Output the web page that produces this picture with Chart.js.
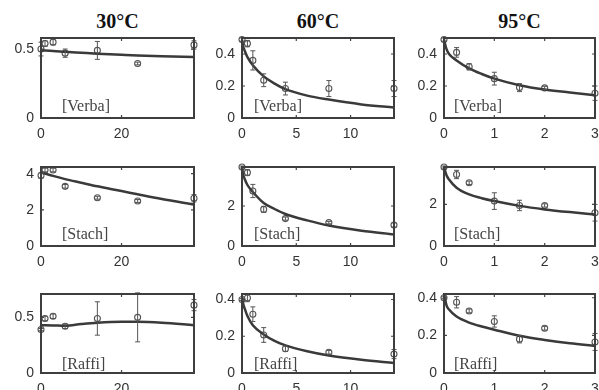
<!DOCTYPE html>
<html>
<head>
<meta charset="utf-8">
<script src="https://cdn.jsdelivr.net/npm/chart.js@4.4.1/dist/chart.umd.min.js"></script>
<style>
    body { margin: 0; background: #fff; width: 599px; height: 390px; overflow: hidden; position: relative; }
    canvas { position: absolute; }
    .ttl { position: absolute; top: 10px; transform: translateX(-50%); white-space: nowrap;
           font: bold 20px "Liberation Serif", "Times New Roman", serif; color: #111; }
</style>
</head>
<body>
<script>
// column titles and row labels
const temps = ['30°C', '60°C', '95°C'];
const sugars = ['[Verba]', '[Stach]', '[Raffi]'];

// sampling times (x) of the measured points, one per temperature
const t30 = [0, 1, 3, 6, 14, 24, 38];
const t60 = [0, 0.5, 1, 2, 4, 8, 14];
const t95 = [0, 0.25, 0.5, 1, 1.5, 2, 3];

// measured values and error bars
const verba30 = [0.50, 0.54, 0.55, 0.47, 0.49, 0.395, 0.53];
const verba30Err = [0.05, 0.02, 0.02, 0.03, 0.065, 0.01, 0.03];
const verba60 = [0.49, 0.465, 0.36, 0.236, 0.184, 0.184, 0.184];
const verba60Err = [0.01, 0.02, 0.06, 0.04, 0.04, 0.05, 0.05];
const verba95 = [0.49, 0.41, 0.32, 0.246, 0.19, 0.188, 0.155];
const verba95Err = [0.01, 0.03, 0.02, 0.04, 0.025, 0.01, 0.045];

const stach30 = [3.9, 4.2, 4.2, 3.3, 2.67, 2.49, 2.64];
const stach30Err = [0.15, 0.1, 0.1, 0.1, 0.08, 0.08, 0.2];
const stach60 = [3.95, 3.67, 2.75, 1.83, 1.37, 1.17, 1.05];
const stach60Err = [0.05, 0.15, 0.33, 0.15, 0.08, 0.06, 0.1];
const stach95 = [3.8, 3.44, 3.04, 2.16, 1.95, 1.95, 1.6];
const stach95Err = [0.05, 0.2, 0.08, 0.4, 0.25, 0.08, 0.4];

const raffi30 = [0.39, 0.49, 0.51, 0.42, 0.49, 0.50, 0.61];
const raffi30Err = [0.01, 0.02, 0.02, 0.02, 0.15, 0.22, 0.05];
const raffi60 = [0.40, 0.408, 0.32, 0.207, 0.132, 0.113, 0.103];
const raffi60Err = [0.005, 0.02, 0.04, 0.04, 0.015, 0.01, 0.025];
const raffi95 = [0.40, 0.376, 0.33, 0.274, 0.18, 0.238, 0.165];
const raffi95Err = [0.005, 0.03, 0.01, 0.03, 0.02, 0.01, 0.045];

// fitted curves
const fitT30 = [0, 3, 6, 10, 14, 20, 24, 30, 38];
const fitT60 = [0, 0.1, 0.25, 0.5, 1, 2, 3, 4, 6, 8, 11, 14];
const fitT95 = [0, 0.05, 0.1, 0.25, 0.5, 0.75, 1, 1.5, 2, 2.5, 3];

const verba30Fit = [0.49, 0.486, 0.48, 0.473, 0.466, 0.458, 0.453, 0.448, 0.443];
const verba60Fit = [0.49, 0.45, 0.42, 0.38, 0.33, 0.26, 0.215, 0.18, 0.14, 0.115, 0.085, 0.065];
const verba95Fit = [0.49, 0.43, 0.40, 0.36, 0.31, 0.275, 0.246, 0.205, 0.178, 0.16, 0.142];

const stach30Fit = [4.08, 3.88, 3.7, 3.5, 3.3, 3.04, 2.86, 2.6, 2.3];
const stach60Fit = [3.95, 3.6, 3.35, 3.05, 2.7, 2.15, 1.85, 1.6, 1.28, 1.02, 0.76, 0.58];
const stach95Fit = [3.8, 3.4, 3.2, 2.8, 2.48, 2.3, 2.16, 1.93, 1.76, 1.63, 1.52];

const raffi30Fit = [0.43, 0.428, 0.425, 0.44, 0.452, 0.46, 0.46, 0.452, 0.43];
const raffi60Fit = [0.42, 0.38, 0.35, 0.31, 0.26, 0.21, 0.175, 0.15, 0.118, 0.095, 0.072, 0.055];
const raffi95Fit = [0.42, 0.36, 0.337, 0.30, 0.268, 0.247, 0.23, 0.198, 0.176, 0.158, 0.144];

// axis ranges and tick steps
const xMax = [38, 14, 3];
const xStep = [20, 5, 1];
const yMax = [[0.58, 0.5, 0.5], [4.37, 3.95, 3.8], [0.71, 0.43, 0.42]];
const yStep = [[0.5, 0.2, 0.2], [2, 2, 2], [0.5, 0.2, 0.2]];

// panel table built from the arrays above
const times = [t30, t60, t95];
const fitTimes = [fitT30, fitT60, fitT95];
const values = [[verba30, verba60, verba95], [stach30, stach60, stach95], [raffi30, raffi60, raffi95]];
const errors = [[verba30Err, verba60Err, verba95Err], [stach30Err, stach60Err, stach95Err], [raffi30Err, raffi60Err, raffi95Err]];
const fits = [[verba30Fit, verba60Fit, verba95Fit], [stach30Fit, stach60Fit, stach95Fit], [raffi30Fit, raffi60Fit, raffi95Fit]];

// plot boxes on the page (pixels)
const colL = [41, 242, 444], colR = [194, 394, 595];
const rowT = [38, 167, 294], rowB = [118, 246, 373];
const tagDx = [21, 12, 10], tagDy = [7, 7, 4];
const padTop = 10, padRight = 10, yW = 40, xH = 25;

const tickFont = { family: '"Liberation Sans", Arial, sans-serif', size: 14 };

// error bars
const errorBars = {
    id: 'errorBars',
    afterDatasetsDraw(chart) {
        const ctx = chart.ctx, ys = chart.scales.y;
        chart.data.datasets.forEach((ds, i) => {
            if (!ds.errors) return;
            const meta = chart.getDatasetMeta(i);
            ctx.save();
            ctx.strokeStyle = '#555';
            ctx.lineWidth = 1;
            meta.data.forEach((pt, j) => {
                const v = ds.data[j].y, e = ds.errors[j];
                const y1 = ys.getPixelForValue(v - e), y2 = ys.getPixelForValue(v + e);
                ctx.beginPath();
                ctx.moveTo(pt.x, y1); ctx.lineTo(pt.x, y2);
                ctx.moveTo(pt.x - 2.5, y1); ctx.lineTo(pt.x + 2.5, y1);
                ctx.moveTo(pt.x - 2.5, y2); ctx.lineTo(pt.x + 2.5, y2);
                ctx.stroke();
            });
            ctx.restore();
        });
    }
};

// matlab-like box with inward ticks, plus the sugar label
const boxAndTag = {
    id: 'boxTag',
    afterDraw(chart, args, opts) {
        const ctx = chart.ctx, a = chart.chartArea;
        const xs = chart.scales.x, ys = chart.scales.y;
        ctx.save();
        ctx.strokeStyle = '#444';
        ctx.lineWidth = 1.2;
        ctx.beginPath();
        xs.ticks.forEach(t => {
            const px = xs.getPixelForValue(t.value);
            ctx.moveTo(px, a.bottom); ctx.lineTo(px, a.bottom - 3);
            ctx.moveTo(px, a.top); ctx.lineTo(px, a.top + 3);
        });
        ys.ticks.forEach(t => {
            const py = ys.getPixelForValue(t.value);
            ctx.moveTo(a.left, py); ctx.lineTo(a.left + 3, py);
            ctx.moveTo(a.right, py); ctx.lineTo(a.right - 3, py);
        });
        ctx.stroke();
        ctx.lineWidth = 2;
        ctx.strokeStyle = '#3e3e3e';
        ctx.strokeRect(a.left, a.top, a.right - a.left, a.bottom - a.top);
        ctx.fillStyle = '#444';
        ctx.font = '16px "Liberation Serif", "Times New Roman", serif';
        ctx.textBaseline = 'alphabetic';
        ctx.fillText(opts.text, a.left + opts.dx, a.bottom - opts.dy);
        ctx.restore();
    }
};

temps.forEach((t, c) => {
    const d = document.createElement('div');
    d.className = 'ttl';
    d.style.left = ((colL[c] + colR[c]) / 2) + 'px';
    d.textContent = t;
    document.body.appendChild(d);
});

for (let r = 0; r < 3; r++) {
    for (let c = 0; c < 3; c++) {
        const w = colR[c] - colL[c] + yW + padRight;
        const h = rowB[r] - rowT[r] + padTop + xH;
        const cv = document.createElement('canvas');
        cv.width = w; cv.height = h;
        cv.style.left = (colL[c] - yW) + 'px';
        cv.style.top = (rowT[r] - padTop) + 'px';
        cv.style.width = w + 'px'; cv.style.height = h + 'px';
        document.body.appendChild(cv);

        const pts = times[c].map((x, i) => ({ x: x, y: values[r][c][i] }));
        const curve = fitTimes[c].map((x, i) => ({ x: x, y: fits[r][c][i] }));

        new Chart(cv.getContext('2d'), {
            type: 'scatter',
            data: {
                datasets: [{
                    data: curve,
                    showLine: true,
                    borderColor: '#3a3a3a',
                    borderWidth: 2.5,
                    pointRadius: 0,
                    cubicInterpolationMode: 'monotone',
                    order: 0
                }, {
                    data: pts,
                    errors: errors[r][c],
                    pointStyle: 'circle',
                    pointRadius: 3,
                    borderWidth: 1.1,
                    borderColor: '#555',
                    backgroundColor: 'rgba(0,0,0,0)',
                    clip: false,
                    order: 1
                }]
            },
            options: {
                responsive: false,
                animation: false,
                layout: { padding: { top: padTop, right: padRight, left: 0, bottom: 0 } },
                plugins: {
                    legend: { display: false },
                    tooltip: { enabled: false },
                    boxTag: { text: sugars[r], dx: tagDx[c], dy: tagDy[r] }
                },
                scales: {
                    x: {
                        type: 'linear', min: 0, max: xMax[c],
                        grid: { display: false, drawTicks: false },
                        border: { display: false },
                        ticks: { stepSize: xStep[c], includeBounds: false, maxRotation: 0, autoSkip: false,
                                 padding: 8, color: '#333', font: tickFont },
                        afterFit: s => { s.height = xH; s.paddingLeft = 0; s.paddingRight = 0; }
                    },
                    y: {
                        min: 0, max: yMax[r][c],
                        grid: { display: false, drawTicks: false },
                        border: { display: false },
                        ticks: { stepSize: yStep[r][c], includeBounds: false, autoSkip: false,
                                 padding: 7, color: '#333', font: tickFont },
                        afterFit: s => { s.width = yW; s.paddingTop = 0; s.paddingBottom = 0; }
                    }
                }
            },
            plugins: [errorBars, boxAndTag]
        });
    }
}
</script>
</body>
</html>
